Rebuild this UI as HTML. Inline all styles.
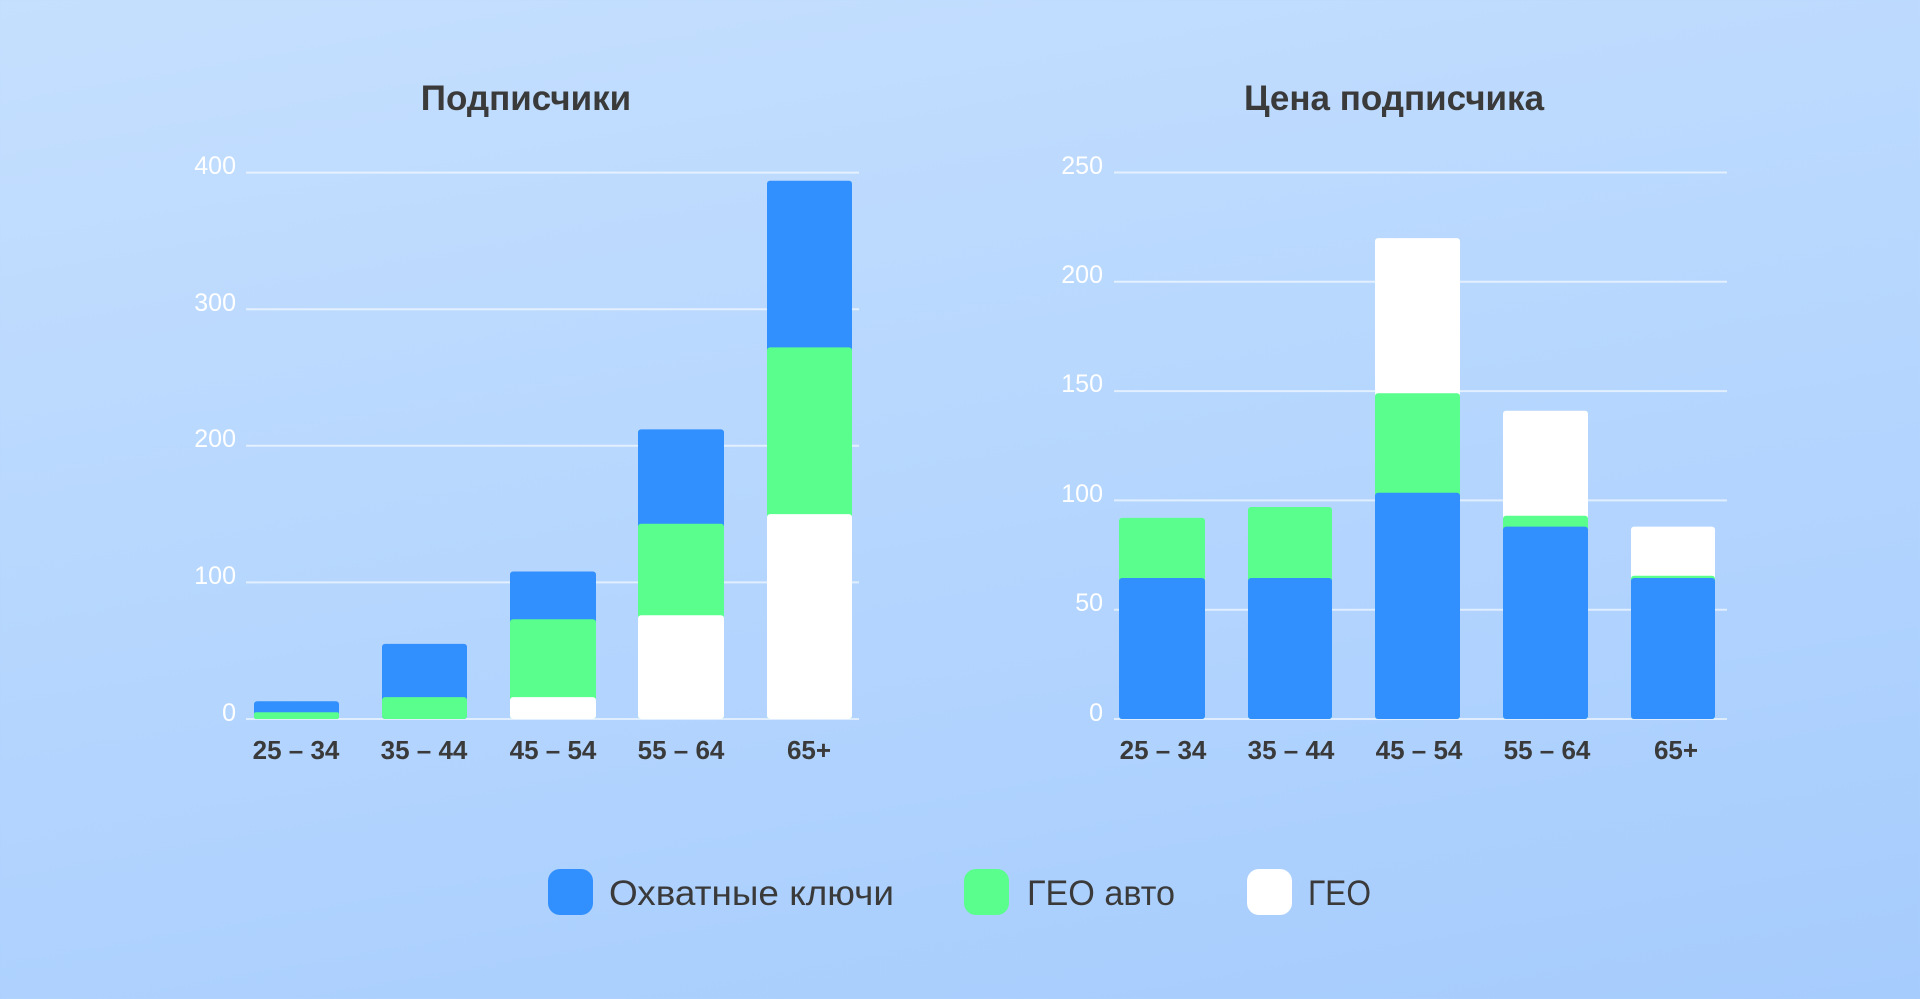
<!DOCTYPE html>
<html><head><meta charset="utf-8"><style>
html,body{margin:0;padding:0;width:1920px;height:999px;overflow:hidden}
body{background:linear-gradient(170deg,#c5dffe 0%,#b7d7fe 45%,#a6ccfd 100%);font-family:"Liberation Sans",sans-serif}
</style></head><body>
<svg width="1920" height="999" xmlns="http://www.w3.org/2000/svg" font-family="Liberation Sans, sans-serif">
<g fill="#3a3a3a" font-weight="bold" font-size="35" text-anchor="middle">
<text x="526" y="110">Подписчики</text>
<text x="1394" y="110">Цена подписчика</text>
</g>
<g stroke="#ffffff" stroke-opacity="0.6" stroke-width="2">
<line x1="246" x2="859" y1="172.6" y2="172.6"/><line x1="246" x2="859" y1="309.2" y2="309.2"/><line x1="246" x2="859" y1="445.8" y2="445.8"/><line x1="246" x2="859" y1="582.4" y2="582.4"/><line x1="246" x2="859" y1="719" y2="719"/>
<line x1="1114" x2="1727" y1="172.5" y2="172.5"/><line x1="1114" x2="1727" y1="281.8" y2="281.8"/><line x1="1114" x2="1727" y1="391.1" y2="391.1"/><line x1="1114" x2="1727" y1="500.4" y2="500.4"/><line x1="1114" x2="1727" y1="609.7" y2="609.7"/><line x1="1114" x2="1727" y1="719" y2="719"/>
</g>
<g fill="#ffffff" font-size="25" text-anchor="end">
<text x="236" y="174">400</text><text x="236" y="311">300</text><text x="236" y="447">200</text><text x="236" y="584">100</text><text x="236" y="721">0</text>
<text x="1103" y="174">250</text><text x="1103" y="283">200</text><text x="1103" y="392">150</text><text x="1103" y="502">100</text><text x="1103" y="611">50</text><text x="1103" y="721">0</text>
</g>
<g>
<rect x="254" y="701.2" width="85" height="17.8" rx="3" fill="#318ffe"/>
<rect x="254" y="712.2" width="85" height="6.8" rx="2" fill="#59fe8d"/>
<rect x="382" y="643.9" width="85" height="75.1" rx="3" fill="#318ffe"/>
<rect x="382" y="697.1" width="85" height="21.9" rx="3" fill="#59fe8d"/>
<rect x="510" y="571.5" width="86" height="147.5" rx="3" fill="#318ffe"/>
<rect x="510" y="619.3" width="86" height="99.7" rx="3" fill="#59fe8d"/>
<rect x="510" y="697.1" width="86" height="21.9" rx="3" fill="#ffffff"/>
<rect x="638" y="429.4" width="86" height="289.6" rx="3" fill="#318ffe"/>
<rect x="638" y="523.7" width="86" height="195.3" rx="3" fill="#59fe8d"/>
<rect x="638" y="615.2" width="86" height="103.8" rx="3" fill="#ffffff"/>
<rect x="767" y="180.8" width="85" height="538.2" rx="3" fill="#318ffe"/>
<rect x="767" y="347.4" width="85" height="371.6" rx="3" fill="#59fe8d"/>
<rect x="767" y="514.1" width="85" height="204.9" rx="3" fill="#ffffff"/>
<rect x="1119" y="517.9" width="86" height="201.1" rx="3" fill="#59fe8d"/>
<rect x="1119" y="578" width="86" height="141" rx="3" fill="#318ffe"/>
<rect x="1248" y="507" width="84" height="212" rx="3" fill="#59fe8d"/>
<rect x="1248" y="578" width="84" height="141" rx="3" fill="#318ffe"/>
<rect x="1375" y="238.1" width="85" height="480.9" rx="3" fill="#ffffff"/>
<rect x="1375" y="393.3" width="85" height="325.7" rx="3" fill="#59fe8d"/>
<rect x="1375" y="492.7" width="85" height="226.3" rx="3" fill="#318ffe"/>
<rect x="1503" y="410.8" width="85" height="308.2" rx="3" fill="#ffffff"/>
<rect x="1503" y="515.7" width="85" height="203.3" rx="3" fill="#59fe8d"/>
<rect x="1503" y="526.6" width="85" height="192.4" rx="3" fill="#318ffe"/>
<rect x="1631" y="526.6" width="84" height="192.4" rx="3" fill="#ffffff"/>
<rect x="1631" y="575.8" width="84" height="143.2" rx="3" fill="#59fe8d"/>
<rect x="1631" y="578" width="84" height="141" rx="3" fill="#318ffe"/>
</g>
<g fill="#3a3a3a" font-weight="bold" font-size="26" text-anchor="middle">
<text x="296" y="759">25 – 34</text><text x="424" y="759">35 – 44</text><text x="553" y="759">45 – 54</text><text x="681" y="759">55 – 64</text><text x="809" y="759">65+</text>
<text x="1163" y="759">25 – 34</text><text x="1291" y="759">35 – 44</text><text x="1419" y="759">45 – 54</text><text x="1547" y="759">55 – 64</text><text x="1676" y="759">65+</text>
</g>
<rect x="548" y="869" width="45" height="46" rx="12" fill="#318ffe"/>
<rect x="964" y="869" width="45" height="46" rx="12" fill="#59fe8d"/>
<rect x="1247" y="869" width="45" height="46" rx="12" fill="#ffffff"/>
<g fill="#3a3a3a" font-size="35">
<text x="609" y="905" textLength="285" lengthAdjust="spacingAndGlyphs">Охватные ключи</text>
<text x="1027" y="905" textLength="148" lengthAdjust="spacingAndGlyphs">ГЕО авто</text>
<text x="1308" y="905" textLength="63" lengthAdjust="spacingAndGlyphs">ГЕО</text>
</g>
</svg>
</body></html>
